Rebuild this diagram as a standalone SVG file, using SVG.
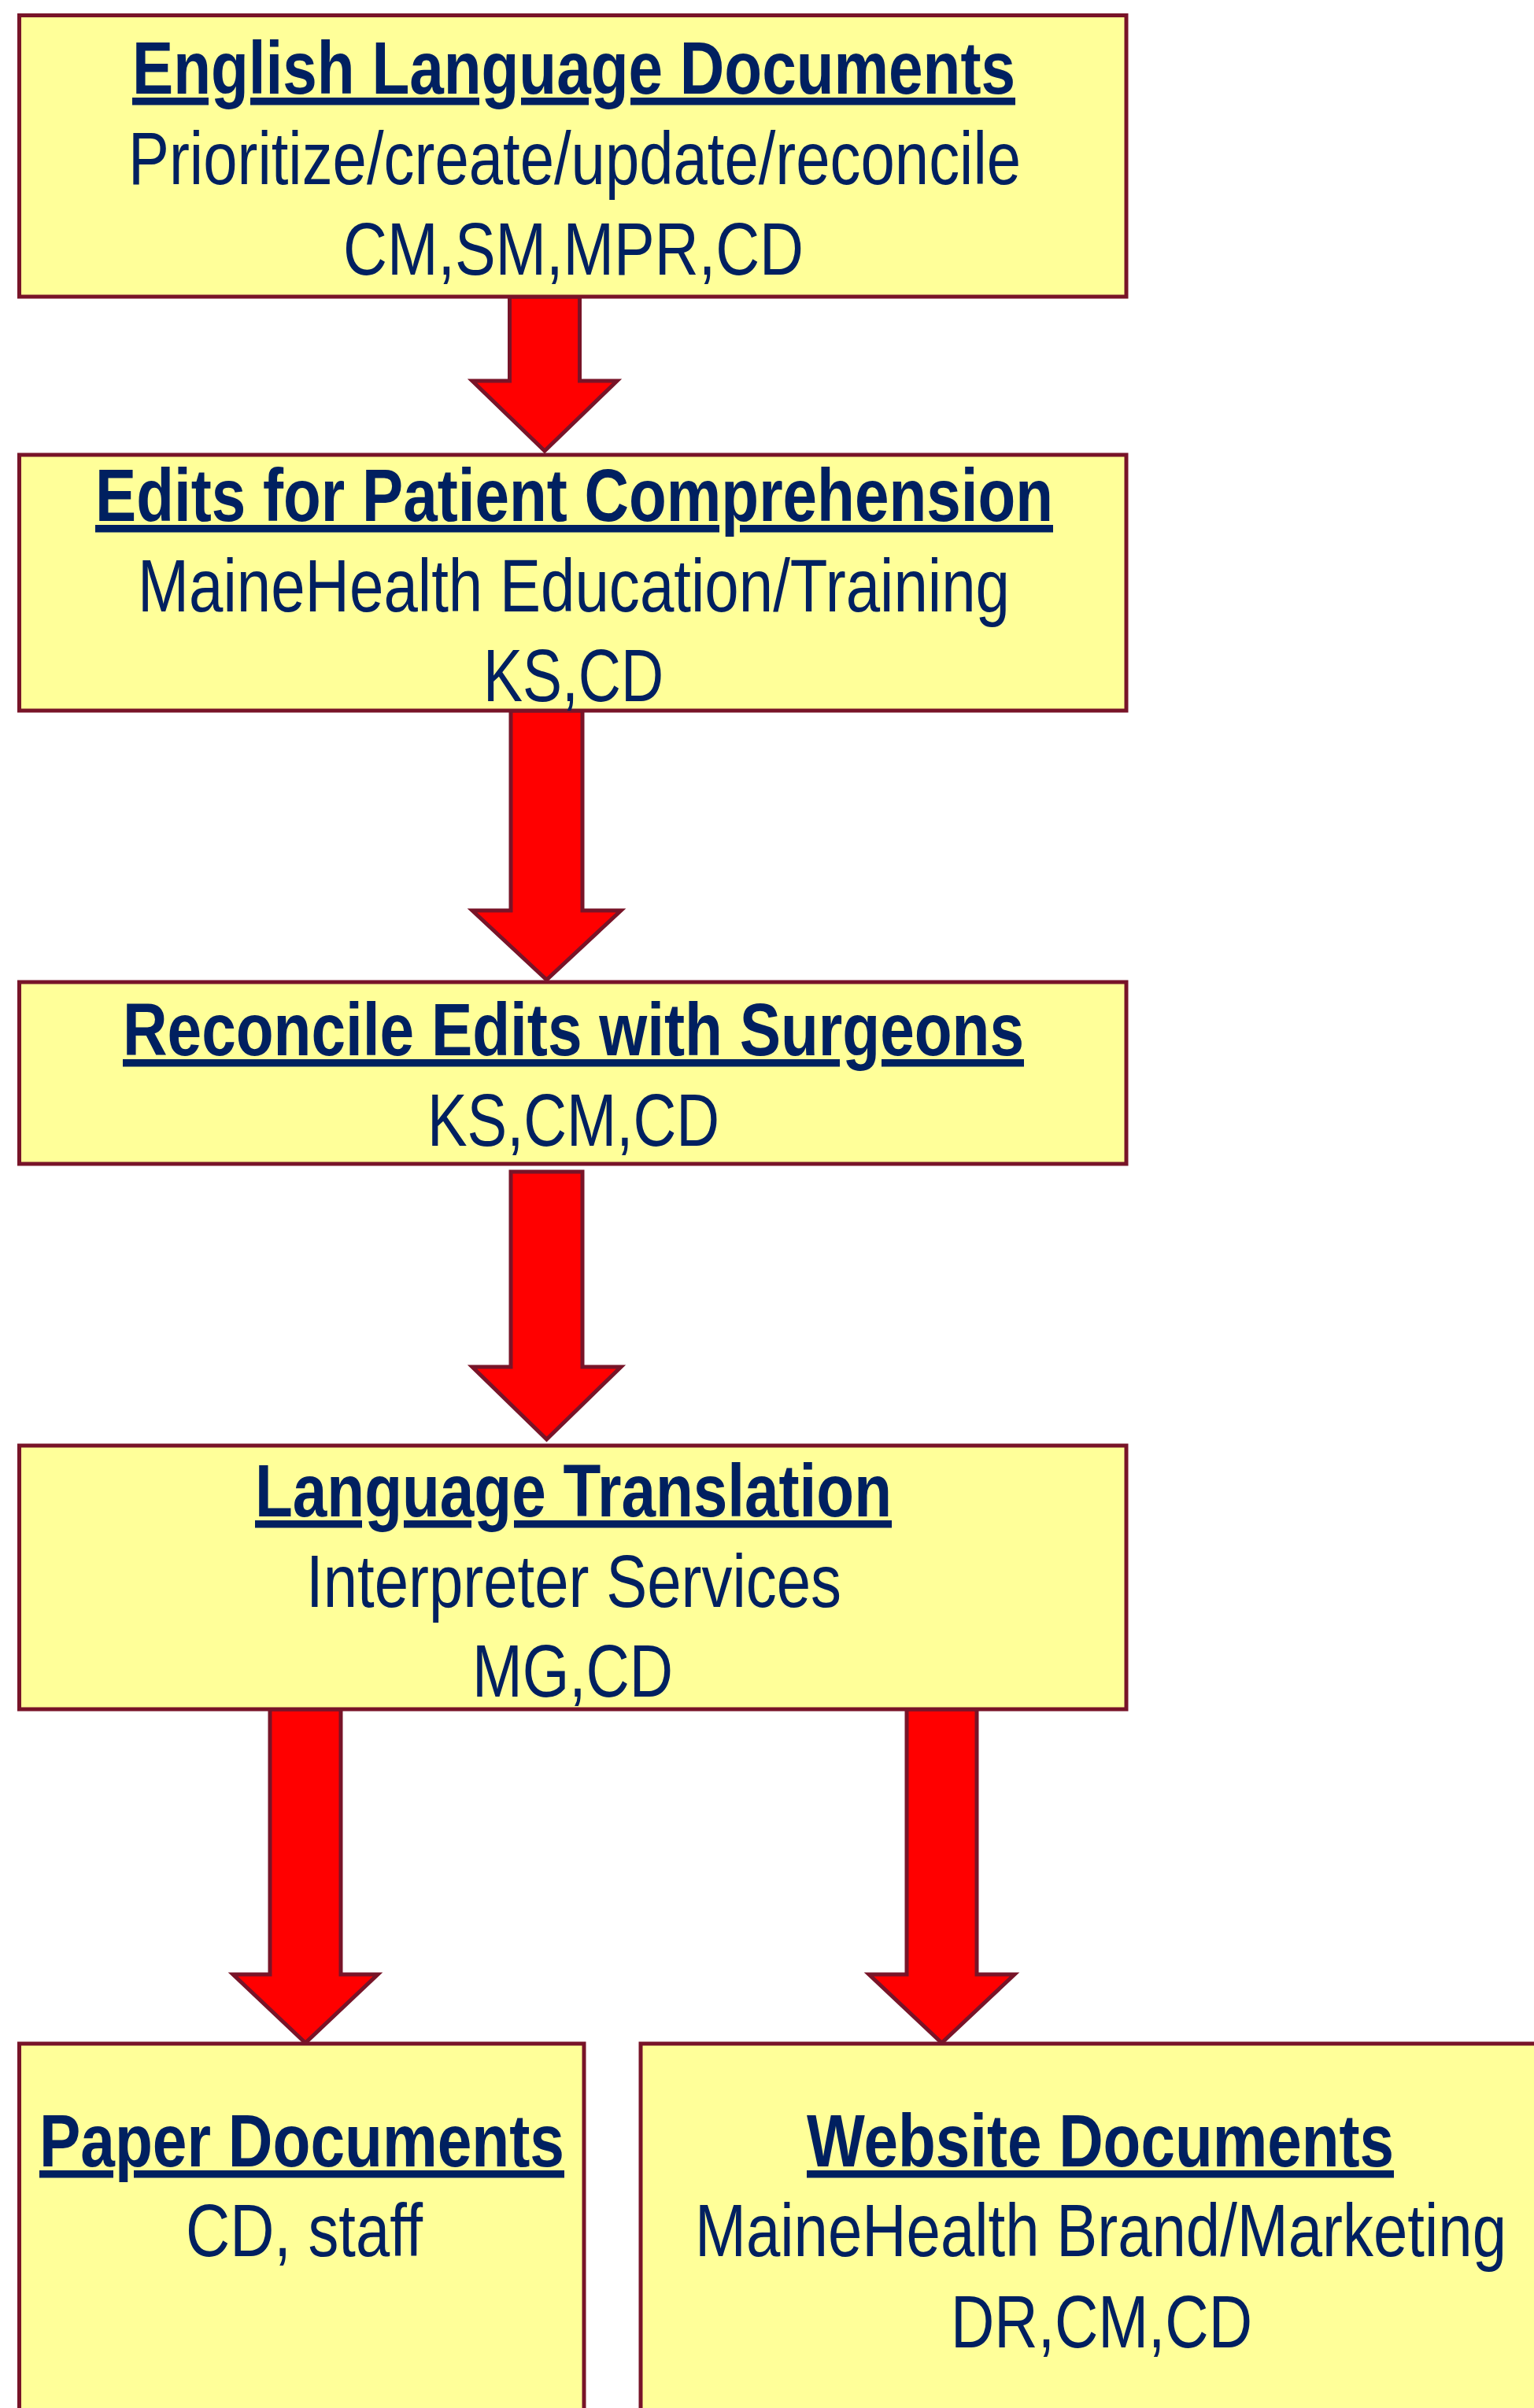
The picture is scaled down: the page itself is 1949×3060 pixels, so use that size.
<svg xmlns="http://www.w3.org/2000/svg" width="1949" height="3060" viewBox="0 0 1949 3060">
<style>
.box{fill:#FFFF99;stroke:#781428;stroke-width:5}
.arr{fill:#FF0000;stroke:#781428;stroke-width:5;stroke-linejoin:miter}
text{font-family:"Liberation Sans Narrow","Arial Narrow","Liberation Sans",sans-serif;font-size:95px;fill:#002060;text-anchor:middle}
.t{font-weight:bold;text-decoration:underline}
</style>
<rect width="1949" height="3060" fill="#FFFFFF"/>
<g id="connectors">
<polygon class="arr" points="647.5,377 736.5,377 736.5,484 784,484 692,573 600,484 647.5,484"/>
<polygon class="arr" points="649,903 740,903 740,1157 789,1157 694.5,1245 600,1157 649,1157"/>
<polygon class="arr" points="649,1489 740,1489 740,1737 789,1737 694.5,1829 600,1737 649,1737"/>
<polygon class="arr" points="343,2172 433,2172 433,2509 480,2509 388,2596 296,2509 343,2509"/>
<polygon class="arr" points="1152,2172 1241,2172 1241,2509 1289,2509 1196.5,2596 1104,2509 1152,2509"/>
</g>
<g id="node-english">
<rect class="box" x="24.5" y="19.5" width="1406.5" height="357.5"/>
<text class="t" x="729" y="119" textLength="1122" lengthAdjust="spacingAndGlyphs">English Language Documents</text>
<text x="730" y="233.5" textLength="1134" lengthAdjust="spacingAndGlyphs">Prioritize/create/update/reconcile</text>
<text x="728.5" y="349" textLength="585" lengthAdjust="spacingAndGlyphs">CM,SM,MPR,CD</text>
</g>
<g id="node-edits">
<rect class="box" x="24.5" y="578" width="1406.5" height="325"/>
<text class="t" x="729.5" y="662" textLength="1217" lengthAdjust="spacingAndGlyphs">Edits for Patient Comprehension</text>
<text x="729" y="776.5" textLength="1108" lengthAdjust="spacingAndGlyphs">MaineHealth Education/Training</text>
<text x="728.5" y="891" textLength="229" lengthAdjust="spacingAndGlyphs">KS,CD</text>
</g>
<g id="node-reconcile">
<rect class="box" x="24.5" y="1248" width="1406.5" height="231"/>
<text class="t" x="728.5" y="1341" textLength="1145" lengthAdjust="spacingAndGlyphs">Reconcile Edits with Surgeons</text>
<text x="728.5" y="1456" textLength="371" lengthAdjust="spacingAndGlyphs">KS,CM,CD</text>
</g>
<g id="node-translation">
<rect class="box" x="24.5" y="1837" width="1406.5" height="335"/>
<text class="t" x="728.5" y="1927" textLength="809" lengthAdjust="spacingAndGlyphs">Language Translation</text>
<text x="729" y="2042" textLength="680" lengthAdjust="spacingAndGlyphs">Interpreter Services</text>
<text x="727.5" y="2156" textLength="255" lengthAdjust="spacingAndGlyphs">MG,CD</text>
</g>
<g id="node-paper">
<rect class="box" x="24.5" y="2597" width="717.5" height="520"/>
<text class="t" x="383.5" y="2753" textLength="667" lengthAdjust="spacingAndGlyphs">Paper Documents</text>
<text x="386.5" y="2867" textLength="301" lengthAdjust="spacingAndGlyphs">CD, staff</text>
</g>
<g id="node-website">
<rect class="box" x="814" y="2597" width="1168" height="520"/>
<text class="t" x="1398" y="2753" textLength="746" lengthAdjust="spacingAndGlyphs">Website Documents</text>
<text x="1398.5" y="2867" textLength="1031" lengthAdjust="spacingAndGlyphs">MaineHealth Brand/Marketing</text>
<text x="1399.5" y="2983" textLength="383" lengthAdjust="spacingAndGlyphs">DR,CM,CD</text>
</g>
</svg>
